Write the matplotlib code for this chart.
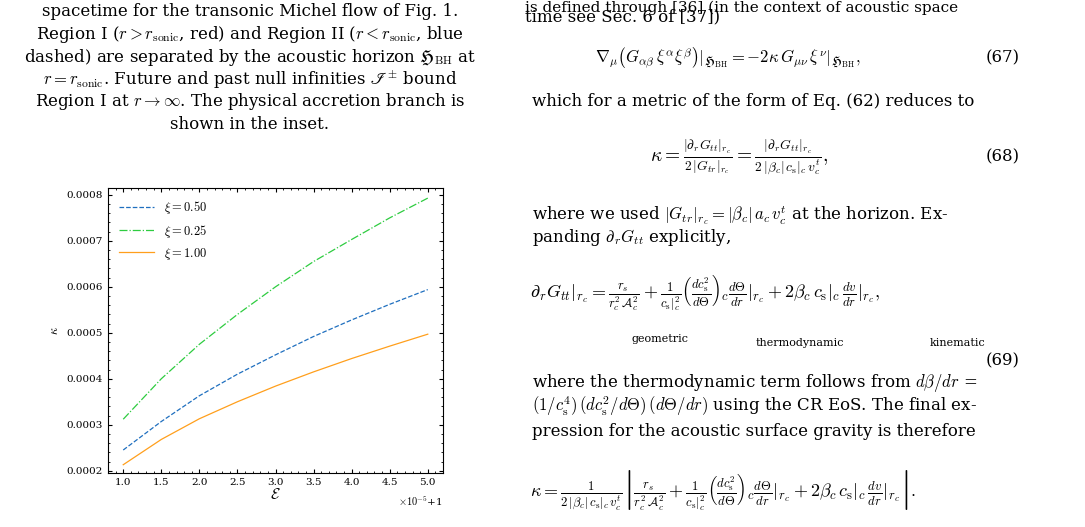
import numpy as np
import matplotlib
matplotlib.use("Agg")
from matplotlib import pyplot as plt

plt.rcParams["font.family"] = "DejaVu Serif"
plt.rcParams["mathtext.fontset"] = "cm"

energy = [1.0, 1.5, 2.0, 2.5, 3.0, 3.5, 4.0, 4.5, 5.0]
kappa_050 = [0.000245, 0.000307, 0.000363, 0.000410, 0.000452, 0.000492, 0.000528, 0.000562, 0.000594]
kappa_025 = [0.000312, 0.000400, 0.000475, 0.000540, 0.000600, 0.000655, 0.000703, 0.000750, 0.000793]
kappa_100 = [0.000213, 0.000268, 0.000313, 0.000350, 0.000384, 0.000415, 0.000444, 0.000471, 0.000497]

fig = plt.figure(figsize=(10.85, 5.27), dpi=100)
W, H = 1085, 527
ax = fig.add_axes([108 / W, 1 - 473 / H, 335 / W, 285 / H])
ax.plot(energy, kappa_050, "--", color="#1f6fbf", lw=0.9, label=r"$\xi = 0.50$")
ax.plot(energy, kappa_025, "-.", color="#2ecc40", lw=0.9, label=r"$\xi = 0.25$")
ax.plot(energy, kappa_100, "-", color="#ff9f1c", lw=0.9, label=r"$\xi = 1.00$")
ax.set_xlim(0.8, 5.2)
ax.set_ylim(0.000195, 0.000815)
ax.set_xticks([1.0, 1.5, 2.0, 2.5, 3.0, 3.5, 4.0, 4.5, 5.0])
ax.set_yticks([0.0002, 0.0003, 0.0004, 0.0005, 0.0006, 0.0007, 0.0008])
ax.set_yticklabels(["0.0002", "0.0003", "0.0004", "0.0005", "0.0006", "0.0007", "0.0008"])
ax.minorticks_on()
ax.tick_params(which="both", direction="in", top=True, right=True, labelsize=7.5)
ax.tick_params(which="major", length=3)
ax.tick_params(which="minor", length=1.5)
ax.set_xlabel(r"$\mathcal{E}$", fontsize=11, labelpad=0)
ax.set_ylabel(r"$\kappa$", fontsize=9)
ax.text(1.0, -0.075, r"$\times10^{-5}$+1", transform=ax.transAxes, ha="right", va="top", fontsize=7.5)
ax.legend(loc="upper left", frameon=False, fontsize=9, handlelength=2.8)

# surrounding page text
lt = [
    "spacetime for the transonic Michel flow of Fig. 1.",
    r"Region I ($r > r_{\rm sonic}$, red) and Region II ($r < r_{\rm sonic}$, blue",
    r"dashed) are separated by the acoustic horizon $\mathfrak{H}_{\rm BH}$ at",
    r"$r = r_{\rm sonic}$. Future and past null infinities $\mathscr{I}^{\pm}$ bound",
    r"Region I at $r \to \infty$. The physical accretion branch is",
    "shown in the inset.",
]
for i, s in enumerate(lt):
    fig.text(250 / W, 1 - (12 + i * 22.5) / H, s, ha="center", va="center", fontsize=12)

fig.text(525 / W, 1 - 1 / H, "is defined through [36] (in the context of acoustic space", fontsize=11, va="top")
fig.text(525 / W, 1 - 17 / H, "time see Sec. 6 of [37])", fontsize=12, va="center")
fig.text(595 / W, 1 - 58 / H, r"$\nabla_\mu\left(G_{\alpha\beta}\,\xi^\alpha\xi^\beta\right)|_{\mathfrak{H}_{\rm BH}} = -2\kappa\, G_{\mu\nu}\,\xi^\nu|_{\mathfrak{H}_{\rm BH}},$", fontsize=12, va="center")
fig.text(1020 / W, 1 - 58 / H, "(67)", fontsize=12, va="center", ha="right")
fig.text(532 / W, 1 - 102 / H, "which for a metric of the form of Eq. (62) reduces to", fontsize=12, va="center")
fig.text(650 / W, 1 - 157 / H, r"$\kappa = \frac{|\partial_r G_{tt}|_{r_c}}{2\,|G_{tr}|_{r_c}} = \frac{|\partial_r G_{tt}|_{r_c}}{2\,|\beta_c|\,c_{\rm s}|_c\,v_c^t},$", fontsize=14, va="center")
fig.text(1020 / W, 1 - 157 / H, "(68)", fontsize=12, va="center", ha="right")
fig.text(532 / W, 1 - 215 / H, r"where we used $|G_{tr}|_{r_c} = |\beta_c|\,a_c\,v_c^t$ at the horizon. Ex-", fontsize=12, va="center")
fig.text(532 / W, 1 - 237 / H, r"panding $\partial_r G_{tt}$ explicitly,", fontsize=12, va="center")
fig.text(530 / W, 1 - 293 / H, r"$\partial_r G_{tt}|_{r_c} = \frac{r_s}{r_c^2\,\mathcal{A}_c^2} + \frac{1}{c_{\rm s}|_c^2}\left(\frac{dc_{\rm s}^2}{d\Theta}\right)_c \frac{d\Theta}{dr}|_{r_c} + 2\beta_c\,c_{\rm s}|_c\,\frac{dv}{dr}|_{r_c},$", fontsize=13, va="center")
fig.text(660 / W, 1 - 339 / H, "geometric", fontsize=8, ha="center", va="center")
fig.text(800 / W, 1 - 343 / H, "thermodynamic", fontsize=8, ha="center", va="center")
fig.text(958 / W, 1 - 343 / H, "kinematic", fontsize=8, ha="center", va="center")
fig.text(1020 / W, 1 - 361 / H, "(69)", fontsize=12, va="center", ha="right")
fig.text(532 / W, 1 - 383 / H, r"where the thermodynamic term follows from $d\beta/dr$ =", fontsize=12, va="center")
fig.text(532 / W, 1 - 406 / H, r"$(1/c_{\rm s}^4)\,(dc_{\rm s}^2/d\Theta)\,(d\Theta/dr)$ using the CR EoS. The final ex-", fontsize=12, va="center")
fig.text(532 / W, 1 - 431 / H, "pression for the acoustic surface gravity is therefore", fontsize=12, va="center")
fig.text(530 / W, 1 - 490 / H, r"$\kappa = \frac{1}{2\,|\beta_c|\,c_{\rm s}|_c\,v_c^t}\left|\frac{r_s}{r_c^2\,\mathcal{A}_c^2} + \frac{1}{c_{\rm s}|_c^2}\left(\frac{dc_{\rm s}^2}{d\Theta}\right)_c\frac{d\Theta}{dr}|_{r_c} + 2\beta_c\,c_{\rm s}|_c\,\frac{dv}{dr}|_{r_c}\right|.$", fontsize=13, va="center")

fig.savefig("out.png", dpi=100)
